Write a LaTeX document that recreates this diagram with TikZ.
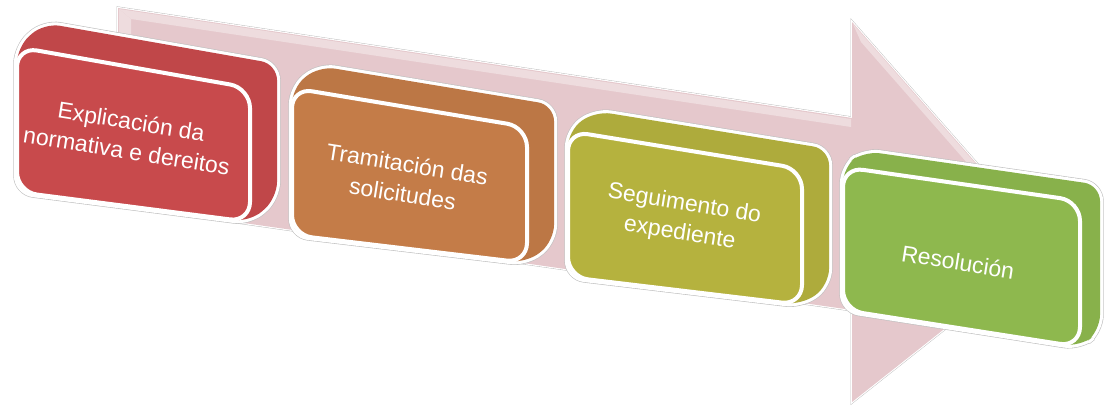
\documentclass[tikz,border=0pt]{standalone}
\usepackage{fontspec}
\setmainfont{Liberation Sans}
\definecolor{redc}{RGB}{200,74,76}
\definecolor{orangec}{RGB}{196,124,72}
\definecolor{olivec}{RGB}{181,178,62}
\definecolor{greenc}{RGB}{142,184,78}
\definecolor{pinkc}{RGB}{229,200,204}
\definecolor{pinkl}{RGB}{238,220,222}
\tikzset{
  hullgray/.style={draw=gray!50, line width=3.7pt, rounded corners=8pt},
  hullwhite/.style={draw=white, line width=3.1pt, rounded corners=8pt},
  hullfill/.style={rounded corners=8pt},
  frontface/.style={draw=white, line width=2pt, rounded corners=10pt},
  steplabel/.style={text=white, font=\fontsize{11.5}{15}\selectfont, align=center, rotate=-9},
  arrowgray/.style={draw=gray!55, line width=1.5pt, line join=miter},
  arrowwhite/.style={draw=white, line width=1.1pt, line join=miter},
}
\newcommand\cubebox[2]{%
  \path[hullgray] (#1TL) -- (#1bTL) -- (#1bTR) -- (#1bBR) -- (#1BR) -- (#1BL) -- cycle;
  \path[hullwhite] (#1TL) -- (#1bTL) -- (#1bTR) -- (#1bBR) -- (#1BR) -- (#1BL) -- cycle;
  \path[hullfill, fill=#2!96!black] (#1TL) -- (#1bTL) -- (#1bTR) -- (#1bBR) -- (#1BR) -- (#1BL) -- cycle;
  \path[frontface, fill=#2] (#1TL) -- (#1TR) -- (#1BR) -- (#1BL) -- cycle;
}
\begin{document}
\begin{tikzpicture}[x=0.5pt, y=-0.5pt]
\useasboundingbox (0,0) rectangle (1105,406);
% big background arrow
\coordinate (a1) at (118,8);
\coordinate (a2) at (852,118);
\coordinate (a3) at (852,22);
\coordinate (a4) at (1049,246);
\coordinate (a5) at (852,402);
\coordinate (a6) at (852,310);
\coordinate (a7) at (118,205);
\path[arrowgray] (a1) -- (a2) -- (a3) -- (a4) -- (a5) -- (a6) -- (a7) -- cycle;
\path[arrowwhite] (a1) -- (a2) -- (a3) -- (a4) -- (a5) -- (a6) -- (a7) -- cycle;
\path[fill=pinkc] (a1) -- (a2) -- (a3) -- (a4) -- (a5) -- (a6) -- (a7) -- cycle;
\path[fill=pinkl] (119,9) -- (851,119) -- (851,127) -- (131,19) -- cycle;
\path[fill=pinkl] (119,9) -- (131,19) -- (131,206) -- (119,204) -- cycle;
\path[fill=pinkl] (853,24) -- (1048,246) -- (1040,246) -- (861,42) -- cycle;
% red box
\coordinate (rTL) at (17,47);   \coordinate (rTR) at (250,88);
\coordinate (rBR) at (250,222); \coordinate (rBL) at (17,192);
\coordinate (rbTL) at (44,23);  \coordinate (rbTR) at (277,64);
\coordinate (rbBR) at (277,198);
% orange box
\coordinate (oTL) at (292,88);  \coordinate (oTR) at (527,127);
\coordinate (oBR) at (527,263); \coordinate (oBL) at (292,235);
\coordinate (obTL) at (319,66); \coordinate (obTR) at (554,105);
\coordinate (obBR) at (554,241);
% olive box
\coordinate (yTL) at (568,131); \coordinate (yTR) at (802,169);
\coordinate (yBR) at (802,305); \coordinate (yBL) at (568,277);
\coordinate (ybTL) at (595,111); \coordinate (ybTR) at (829,149);
\coordinate (ybBR) at (829,285);
% green box
\coordinate (gTL) at (843,167); \coordinate (gTR) at (1080,201);
\coordinate (gBR) at (1080,347); \coordinate (gBL) at (843,310);
\coordinate (gbTL) at (864,151); \coordinate (gbTR) at (1100,185);
\coordinate (gbBR) at (1100,331);
\cubebox{r}{redc}
\cubebox{o}{orangec}
\cubebox{y}{olivec}
\cubebox{g}{greenc}
\node[steplabel] (t1) at (129,136) {Explicación da\\normativa e dereitos};
\node[steplabel] (t2) at (405,179) {Tramitación das\\solicitudes};
\node[steplabel] (t3) at (682,219) {Seguimento do\\expediente};
\node[steplabel] (t4) at (958,262) {Resolución};
\end{tikzpicture}
\end{document}
